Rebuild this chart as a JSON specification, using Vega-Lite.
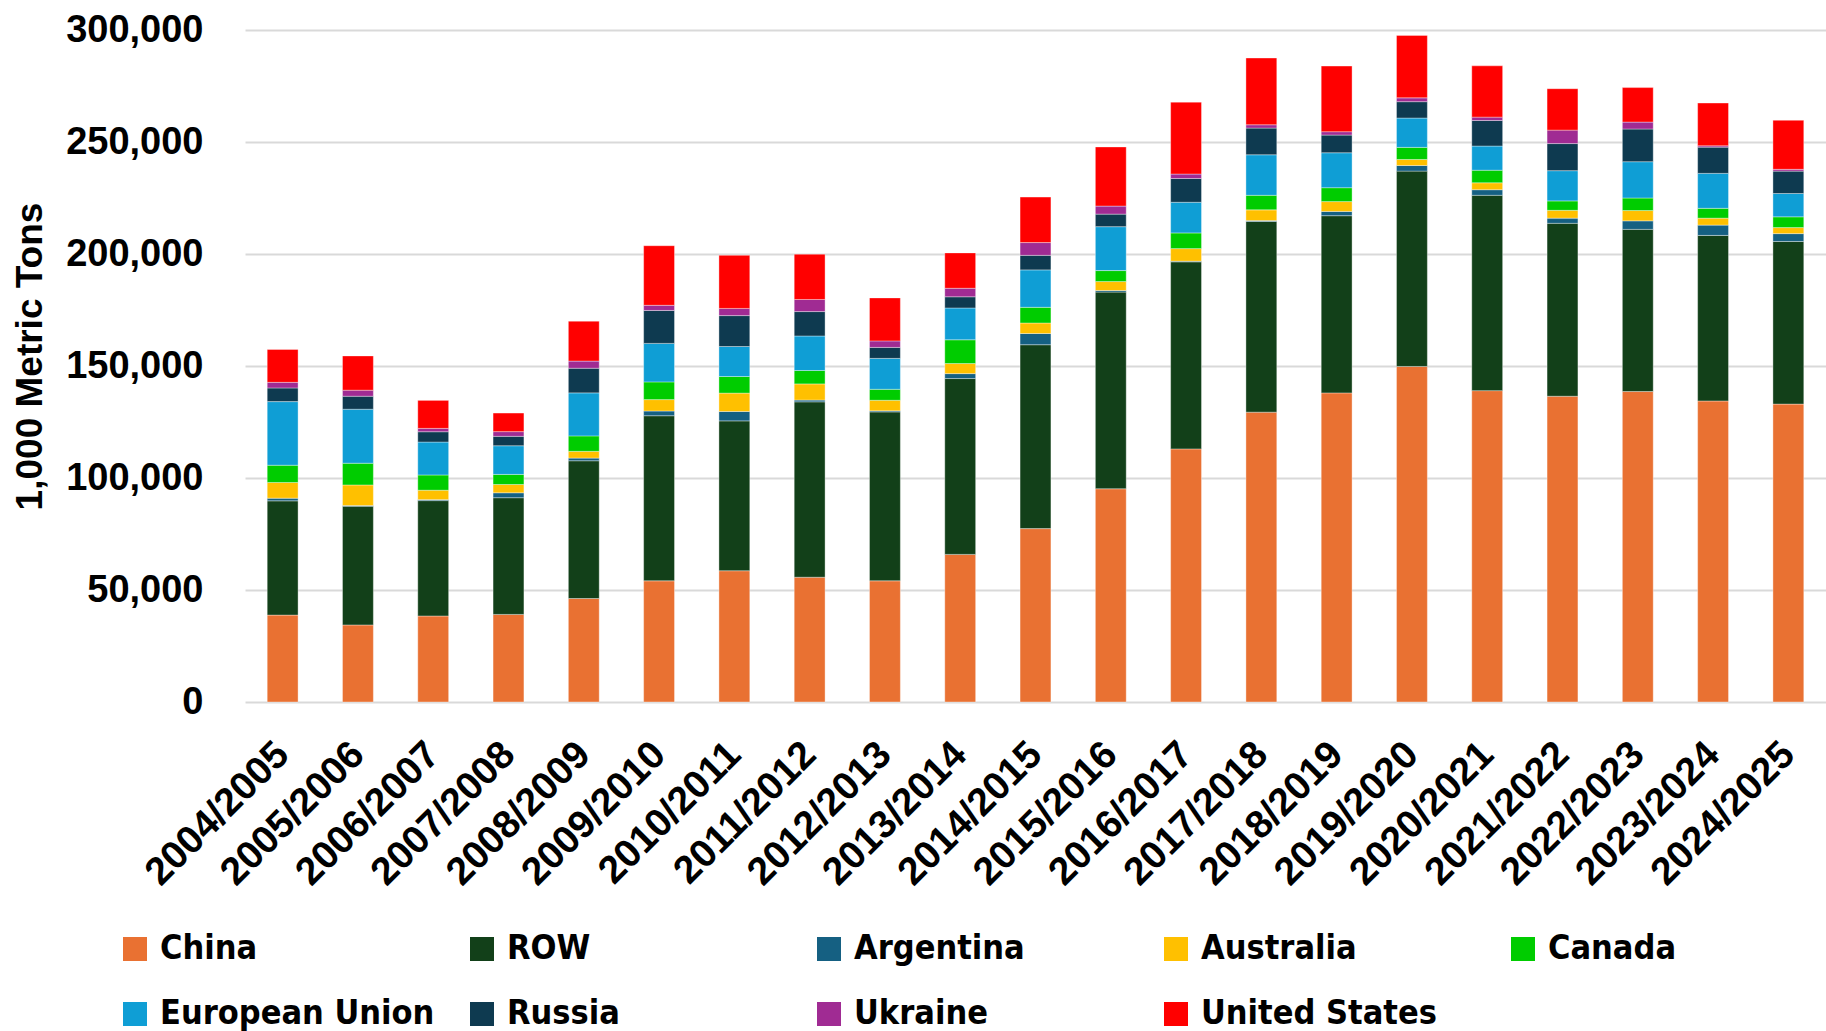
{
  "$schema": "https://vega.github.io/schema/vega-lite/v6.json",
  "width": 1581,
  "height": 672,
  "autosize": {"type": "none"},
  "padding": {"left": 245, "top": 30, "right": 0, "bottom": 329},
  "background": "white",
  "config": {
    "view": {"stroke": null},
    "font": "Liberation Sans"
  },
  "data": {
    "values": [
      {"s":"2004/2005","c":"China","o":0,"v":38800},{"s":"2004/2005","c":"ROW","o":1,"v":51000},{"s":"2004/2005","c":"Argentina","o":2,"v":1200},{"s":"2004/2005","c":"Australia","o":3,"v":7000},{"s":"2004/2005","c":"Canada","o":4,"v":7700},{"s":"2004/2005","c":"European Union","o":5,"v":28400},{"s":"2004/2005","c":"Russia","o":6,"v":6100},{"s":"2004/2005","c":"Ukraine","o":7,"v":2500},{"s":"2004/2005","c":"United States","o":8,"v":14700},
      {"s":"2005/2006","c":"China","o":0,"v":34400},{"s":"2005/2006","c":"ROW","o":1,"v":53000},{"s":"2005/2006","c":"Argentina","o":2,"v":300},{"s":"2005/2006","c":"Australia","o":3,"v":9200},{"s":"2005/2006","c":"Canada","o":4,"v":9700},{"s":"2005/2006","c":"European Union","o":5,"v":24100},{"s":"2005/2006","c":"Russia","o":6,"v":5800},{"s":"2005/2006","c":"Ukraine","o":7,"v":2700},{"s":"2005/2006","c":"United States","o":8,"v":15300},
      {"s":"2006/2007","c":"China","o":0,"v":38400},{"s":"2006/2007","c":"ROW","o":1,"v":51500},{"s":"2006/2007","c":"Argentina","o":2,"v":450},{"s":"2006/2007","c":"Australia","o":3,"v":4200},{"s":"2006/2007","c":"Canada","o":4,"v":6800},{"s":"2006/2007","c":"European Union","o":5,"v":14700},{"s":"2006/2007","c":"Russia","o":6,"v":4600},{"s":"2006/2007","c":"Ukraine","o":7,"v":1500},{"s":"2006/2007","c":"United States","o":8,"v":12500},
      {"s":"2007/2008","c":"China","o":0,"v":39100},{"s":"2007/2008","c":"ROW","o":1,"v":52100},{"s":"2007/2008","c":"Argentina","o":2,"v":2200},{"s":"2007/2008","c":"Australia","o":3,"v":3700},{"s":"2007/2008","c":"Canada","o":4,"v":4500},{"s":"2007/2008","c":"European Union","o":5,"v":12800},{"s":"2007/2008","c":"Russia","o":6,"v":4200},{"s":"2007/2008","c":"Ukraine","o":7,"v":2100},{"s":"2007/2008","c":"United States","o":8,"v":8300},
      {"s":"2008/2009","c":"China","o":0,"v":46200},{"s":"2008/2009","c":"ROW","o":1,"v":61500},{"s":"2008/2009","c":"Argentina","o":2,"v":1200},{"s":"2008/2009","c":"Australia","o":3,"v":3000},{"s":"2008/2009","c":"Canada","o":4,"v":6900},{"s":"2008/2009","c":"European Union","o":5,"v":19200},{"s":"2008/2009","c":"Russia","o":6,"v":11000},{"s":"2008/2009","c":"Ukraine","o":7,"v":3200},{"s":"2008/2009","c":"United States","o":8,"v":17800},
      {"s":"2009/2010","c":"China","o":0,"v":54100},{"s":"2009/2010","c":"ROW","o":1,"v":73700},{"s":"2009/2010","c":"Argentina","o":2,"v":2100},{"s":"2009/2010","c":"Australia","o":3,"v":5100},{"s":"2009/2010","c":"Canada","o":4,"v":7900},{"s":"2009/2010","c":"European Union","o":5,"v":17200},{"s":"2009/2010","c":"Russia","o":6,"v":14700},{"s":"2009/2010","c":"Ukraine","o":7,"v":2300},{"s":"2009/2010","c":"United States","o":8,"v":26600},
      {"s":"2010/2011","c":"China","o":0,"v":58600},{"s":"2010/2011","c":"ROW","o":1,"v":66900},{"s":"2010/2011","c":"Argentina","o":2,"v":4200},{"s":"2010/2011","c":"Australia","o":3,"v":8200},{"s":"2010/2011","c":"Canada","o":4,"v":7400},{"s":"2010/2011","c":"European Union","o":5,"v":13400},{"s":"2010/2011","c":"Russia","o":6,"v":13800},{"s":"2010/2011","c":"Ukraine","o":7,"v":3200},{"s":"2010/2011","c":"United States","o":8,"v":23700},
      {"s":"2011/2012","c":"China","o":0,"v":55700},{"s":"2011/2012","c":"ROW","o":1,"v":78300},{"s":"2011/2012","c":"Argentina","o":2,"v":800},{"s":"2011/2012","c":"Australia","o":3,"v":7200},{"s":"2011/2012","c":"Canada","o":4,"v":6000},{"s":"2011/2012","c":"European Union","o":5,"v":15400},{"s":"2011/2012","c":"Russia","o":6,"v":10900},{"s":"2011/2012","c":"Ukraine","o":7,"v":5400},{"s":"2011/2012","c":"United States","o":8,"v":20200},
      {"s":"2012/2013","c":"China","o":0,"v":54100},{"s":"2012/2013","c":"ROW","o":1,"v":75400},{"s":"2012/2013","c":"Argentina","o":2,"v":500},{"s":"2012/2013","c":"Australia","o":3,"v":4700},{"s":"2012/2013","c":"Canada","o":4,"v":4900},{"s":"2012/2013","c":"European Union","o":5,"v":13800},{"s":"2012/2013","c":"Russia","o":6,"v":4900},{"s":"2012/2013","c":"Ukraine","o":7,"v":2900},{"s":"2012/2013","c":"United States","o":8,"v":19200},
      {"s":"2013/2014","c":"China","o":0,"v":65900},{"s":"2013/2014","c":"ROW","o":1,"v":78500},{"s":"2013/2014","c":"Argentina","o":2,"v":2200},{"s":"2013/2014","c":"Australia","o":3,"v":4500},{"s":"2013/2014","c":"Canada","o":4,"v":10600},{"s":"2013/2014","c":"European Union","o":5,"v":14200},{"s":"2013/2014","c":"Russia","o":6,"v":5000},{"s":"2013/2014","c":"Ukraine","o":7,"v":3800},{"s":"2013/2014","c":"United States","o":8,"v":15800},
      {"s":"2014/2015","c":"China","o":0,"v":77400},{"s":"2014/2015","c":"ROW","o":1,"v":82100},{"s":"2014/2015","c":"Argentina","o":2,"v":5000},{"s":"2014/2015","c":"Australia","o":3,"v":4700},{"s":"2014/2015","c":"Canada","o":4,"v":7000},{"s":"2014/2015","c":"European Union","o":5,"v":16700},{"s":"2014/2015","c":"Russia","o":6,"v":6500},{"s":"2014/2015","c":"Ukraine","o":7,"v":5700},{"s":"2014/2015","c":"United States","o":8,"v":20300},
      {"s":"2015/2016","c":"China","o":0,"v":95200},{"s":"2015/2016","c":"ROW","o":1,"v":87800},{"s":"2015/2016","c":"Argentina","o":2,"v":700},{"s":"2015/2016","c":"Australia","o":3,"v":4000},{"s":"2015/2016","c":"Canada","o":4,"v":4900},{"s":"2015/2016","c":"European Union","o":5,"v":19600},{"s":"2015/2016","c":"Russia","o":6,"v":5600},{"s":"2015/2016","c":"Ukraine","o":7,"v":3600},{"s":"2015/2016","c":"United States","o":8,"v":26400},
      {"s":"2016/2017","c":"China","o":0,"v":113000},{"s":"2016/2017","c":"ROW","o":1,"v":83500},{"s":"2016/2017","c":"Argentina","o":2,"v":300},{"s":"2016/2017","c":"Australia","o":3,"v":5600},{"s":"2016/2017","c":"Canada","o":4,"v":7000},{"s":"2016/2017","c":"European Union","o":5,"v":13700},{"s":"2016/2017","c":"Russia","o":6,"v":10600},{"s":"2016/2017","c":"Ukraine","o":7,"v":2000},{"s":"2016/2017","c":"United States","o":8,"v":32100},
      {"s":"2017/2018","c":"China","o":0,"v":129400},{"s":"2017/2018","c":"ROW","o":1,"v":85100},{"s":"2017/2018","c":"Argentina","o":2,"v":400},{"s":"2017/2018","c":"Australia","o":3,"v":4800},{"s":"2017/2018","c":"Canada","o":4,"v":6500},{"s":"2017/2018","c":"European Union","o":5,"v":18100},{"s":"2017/2018","c":"Russia","o":6,"v":11900},{"s":"2017/2018","c":"Ukraine","o":7,"v":1500},{"s":"2017/2018","c":"United States","o":8,"v":29800},
      {"s":"2018/2019","c":"China","o":0,"v":138000},{"s":"2018/2019","c":"ROW","o":1,"v":79100},{"s":"2018/2019","c":"Argentina","o":2,"v":1900},{"s":"2018/2019","c":"Australia","o":3,"v":4400},{"s":"2018/2019","c":"Canada","o":4,"v":6200},{"s":"2018/2019","c":"European Union","o":5,"v":15600},{"s":"2018/2019","c":"Russia","o":6,"v":7900},{"s":"2018/2019","c":"Ukraine","o":7,"v":1500},{"s":"2018/2019","c":"United States","o":8,"v":29300},
      {"s":"2019/2020","c":"China","o":0,"v":149800},{"s":"2019/2020","c":"ROW","o":1,"v":87200},{"s":"2019/2020","c":"Argentina","o":2,"v":2500},{"s":"2019/2020","c":"Australia","o":3,"v":2700},{"s":"2019/2020","c":"Canada","o":4,"v":5400},{"s":"2019/2020","c":"European Union","o":5,"v":13100},{"s":"2019/2020","c":"Russia","o":6,"v":7300},{"s":"2019/2020","c":"Ukraine","o":7,"v":1700},{"s":"2019/2020","c":"United States","o":8,"v":27900},
      {"s":"2020/2021","c":"China","o":0,"v":139000},{"s":"2020/2021","c":"ROW","o":1,"v":87200},{"s":"2020/2021","c":"Argentina","o":2,"v":2500},{"s":"2020/2021","c":"Australia","o":3,"v":3100},{"s":"2020/2021","c":"Canada","o":4,"v":5600},{"s":"2020/2021","c":"European Union","o":5,"v":10800},{"s":"2020/2021","c":"Russia","o":6,"v":11400},{"s":"2020/2021","c":"Ukraine","o":7,"v":1500},{"s":"2020/2021","c":"United States","o":8,"v":22900},
      {"s":"2021/2022","c":"China","o":0,"v":136500},{"s":"2021/2022","c":"ROW","o":1,"v":77200},{"s":"2021/2022","c":"Argentina","o":2,"v":2300},{"s":"2021/2022","c":"Australia","o":3,"v":3500},{"s":"2021/2022","c":"Canada","o":4,"v":4200},{"s":"2021/2022","c":"European Union","o":5,"v":13500},{"s":"2021/2022","c":"Russia","o":6,"v":12100},{"s":"2021/2022","c":"Ukraine","o":7,"v":6000},{"s":"2021/2022","c":"United States","o":8,"v":18500},
      {"s":"2022/2023","c":"China","o":0,"v":138600},{"s":"2022/2023","c":"ROW","o":1,"v":72400},{"s":"2022/2023","c":"Argentina","o":2,"v":3800},{"s":"2022/2023","c":"Australia","o":3,"v":4600},{"s":"2022/2023","c":"Canada","o":4,"v":5600},{"s":"2022/2023","c":"European Union","o":5,"v":16200},{"s":"2022/2023","c":"Russia","o":6,"v":14600},{"s":"2022/2023","c":"Ukraine","o":7,"v":3100},{"s":"2022/2023","c":"United States","o":8,"v":15400},
      {"s":"2023/2024","c":"China","o":0,"v":134400},{"s":"2023/2024","c":"ROW","o":1,"v":73900},{"s":"2023/2024","c":"Argentina","o":2,"v":4600},{"s":"2023/2024","c":"Australia","o":3,"v":3100},{"s":"2023/2024","c":"Canada","o":4,"v":4400},{"s":"2023/2024","c":"European Union","o":5,"v":15600},{"s":"2023/2024","c":"Russia","o":6,"v":11700},{"s":"2023/2024","c":"Ukraine","o":7,"v":600},{"s":"2023/2024","c":"United States","o":8,"v":19100},
      {"s":"2024/2025","c":"China","o":0,"v":133000},{"s":"2024/2025","c":"ROW","o":1,"v":72600},{"s":"2024/2025","c":"Argentina","o":2,"v":3500},{"s":"2024/2025","c":"Australia","o":3,"v":2700},{"s":"2024/2025","c":"Canada","o":4,"v":4800},{"s":"2024/2025","c":"European Union","o":5,"v":10400},{"s":"2024/2025","c":"Russia","o":6,"v":10000},{"s":"2024/2025","c":"Ukraine","o":7,"v":800},{"s":"2024/2025","c":"United States","o":8,"v":21900}
    ]
  },
  "mark": {"type": "bar", "stroke": "white", "strokeWidth": 0.6, "strokeOpacity": 0.6},
  "encoding": {
    "x": {
      "field": "s", "type": "ordinal", "title": null,
      "scale": {"paddingInner": 0.59, "paddingOuter": 0.295},
      "axis": {
        "labelAngle": -45, "labelAlign": "right", "labelBaseline": "middle",
        "labelFont": "Liberation Sans", "labelFontWeight": "bold", "labelFontSize": 39,
        "labelColor": "black", "ticks": false, "tickSize": 0, "labelPadding": 46,
        "domain": false, "labelOverlap": false, "labelLimit": 400
      }
    },
    "y": {
      "field": "v", "type": "quantitative", "stack": "zero",
      "title": "1,000 Metric Tons",
      "scale": {"domain": [0, 300000], "nice": false},
      "axis": {
        "values": [0, 50000, 100000, 150000, 200000, 250000, 300000],
        "format": ",d",
        "labelFont": "Liberation Sans", "labelFontWeight": "bold", "labelFontSize": 38,
        "labelColor": "black", "ticks": false, "tickSize": 0, "labelPadding": 42,
        "domain": false, "grid": true, "gridColor": "#D9D9D9", "gridWidth": 2,
        "titleFont": "Liberation Sans", "titleFontWeight": "bold", "titleFontSize": 37,
        "titleColor": "black", "titleX": -215, "titleY": 326, "titleAngle": -90,
        "titleAlign": "center", "titleBaseline": "middle"
      }
    },
    "color": {
      "field": "c", "type": "nominal", "title": null,
      "scale": {
        "domain": ["China", "ROW", "Argentina", "Australia", "Canada", "European Union", "Russia", "Ukraine", "United States"],
        "range": ["#E97132", "#124019", "#156082", "#FFC000", "#00CC00", "#0F9ED5", "#0E3A50", "#A02B93", "#FF0000"]
      },
      "legend": {
        "orient": "none", "legendX": -127, "legendY": 902,
        "direction": "horizontal", "columns": 5, "gridAlign": "all",
        "symbolType": "square", "symbolSize": 576, "symbolStrokeWidth": 0,
        "labelFont": "DejaVu Sans Condensed", "labelFontWeight": "bold", "labelFontSize": 34,
        "labelColor": "black", "labelOffset": 8, "labelLimit": 400,
        "columnPadding": 30, "rowPadding": 31
      }
    },
    "order": {"field": "o", "type": "quantitative", "sort": "ascending"}
  }
}
